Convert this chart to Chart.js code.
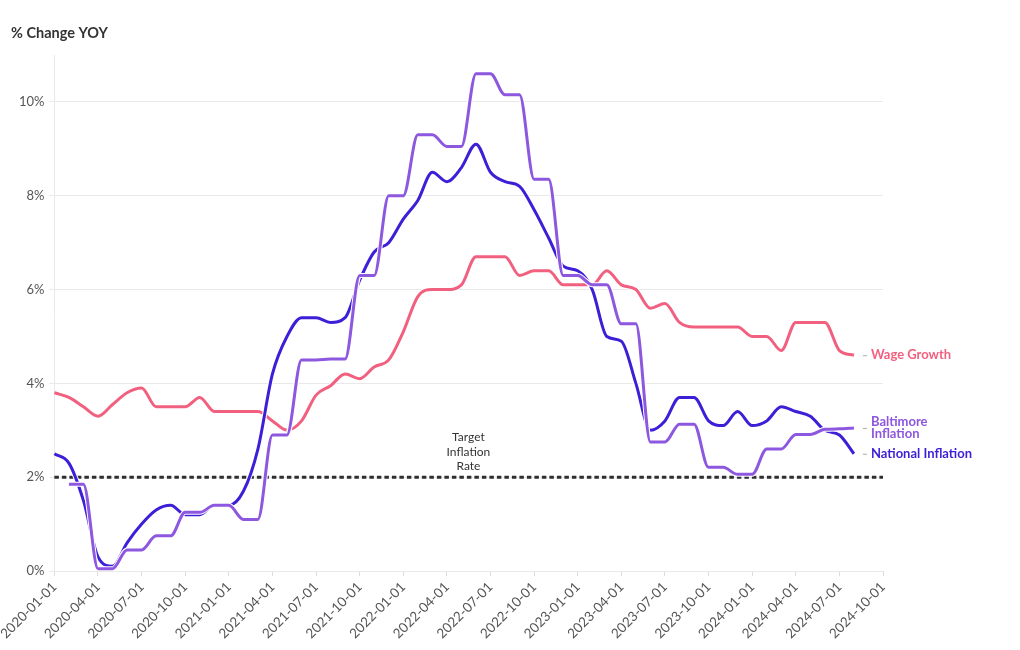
<!DOCTYPE html>
<html>
<head>
<meta charset="utf-8">
<script src="https://cdn.jsdelivr.net/npm/chart.js@4"></script>
<style>
    html, body { margin: 0; padding: 0; background: #fff; }
    #wrap { width: 1020px; height: 650px; position: relative; }
</style>
</head>
<body>
<div id="wrap"><canvas id="inflationChart"></canvas></div>
<script>
// Monthly categories, 2020-01 .. 2024-10 (labels shown every quarter)
const months = [
    '2020-01-01', '2020-02-01', '2020-03-01', '2020-04-01', '2020-05-01', '2020-06-01',
    '2020-07-01', '2020-08-01', '2020-09-01', '2020-10-01', '2020-11-01', '2020-12-01',
    '2021-01-01', '2021-02-01', '2021-03-01', '2021-04-01', '2021-05-01', '2021-06-01',
    '2021-07-01', '2021-08-01', '2021-09-01', '2021-10-01', '2021-11-01', '2021-12-01',
    '2022-01-01', '2022-02-01', '2022-03-01', '2022-04-01', '2022-05-01', '2022-06-01',
    '2022-07-01', '2022-08-01', '2022-09-01', '2022-10-01', '2022-11-01', '2022-12-01',
    '2023-01-01', '2023-02-01', '2023-03-01', '2023-04-01', '2023-05-01', '2023-06-01',
    '2023-07-01', '2023-08-01', '2023-09-01', '2023-10-01', '2023-11-01', '2023-12-01',
    '2024-01-01', '2024-02-01', '2024-03-01', '2024-04-01', '2024-05-01', '2024-06-01',
    '2024-07-01', '2024-08-01', '2024-09-01', '2024-10-01'
];

const wageGrowth = [
    3.8, 3.7, 3.5, 3.3, 3.55, 3.8, 3.9, 3.5, 3.5, 3.5, 3.7, 3.4,
    3.4, 3.4, 3.4, 3.2, 3.0, 3.2, 3.75, 3.95, 4.2, 4.1, 4.35, 4.5,
    5.1, 5.85, 6.0, 6.0, 6.1, 6.7, 6.7, 6.7, 6.3, 6.4, 6.4, 6.1,
    6.1, 6.1, 6.4, 6.1, 6.0, 5.6, 5.7, 5.3, 5.2, 5.2, 5.2, 5.2,
    5.0, 5.0, 4.7, 5.3, 5.3, 5.3, 4.7, 4.6
];

const nationalInflation = [
    2.5, 2.3, 1.5, 0.3, 0.1, 0.6, 1.0, 1.3, 1.4, 1.2, 1.2, 1.4,
    1.4, 1.7, 2.6, 4.2, 5.0, 5.4, 5.4, 5.3, 5.4, 6.2, 6.8, 7.0,
    7.5, 7.9, 8.5, 8.3, 8.6, 9.1, 8.5, 8.3, 8.2, 7.7, 7.1, 6.5,
    6.4, 6.0, 5.0, 4.9, 4.0, 3.0, 3.2, 3.7, 3.7, 3.2, 3.1, 3.4,
    3.1, 3.2, 3.5, 3.4, 3.3, 3.0, 2.9, 2.5
];

// Baltimore CPI is bimonthly, so each reading is held for two months
const baltimoreInflation = [
    null, 1.85, 1.85, 0.05, 0.05, 0.45, 0.45, 0.75, 0.75, 1.25, 1.25, 1.4,
    1.4, 1.1, 1.1, 2.9, 2.9, 4.5, 4.5, 4.52, 4.52, 6.3, 6.3, 8.0,
    8.0, 9.3, 9.3, 9.05, 9.05, 10.6, 10.6, 10.15, 10.15, 8.35, 8.35, 6.3,
    6.3, 6.1, 6.1, 5.27, 5.27, 2.75, 2.75, 3.13, 3.13, 2.21, 2.21, 2.06,
    2.06, 2.6, 2.6, 2.91, 2.91, 3.02, 3.03, 3.05
];

const targetRate = 2;
const yTicks = [0, 2, 4, 6, 8, 10];

const COLORS = {
    wage: '#f1607f',
    national: '#3c1fd6',
    baltimore: '#8d57df',
    target: '#2e2e2e',
    text: '#333333',
    axisText: '#555555',
    grid: '#e9e9e9'
};

const FONT = 'Lato, "Open Sans", sans-serif';

const endLabels = [
    { series: 'Wage Growth', lines: ['Wage Growth'], color: COLORS.wage },
    { series: 'Baltimore Inflation', lines: ['Baltimore', 'Inflation'], color: COLORS.baltimore },
    { series: 'National Inflation', lines: ['National Inflation'], color: COLORS.national }
];

// Each series gets a thin white halo drawn right under it, like the original
function seriesWithHalo(label, data, color, order) {
    const common = {
        data,
        pointRadius: 0,
        cubicInterpolationMode: 'monotone'
    };
    return [
        { ...common, label: `${label} halo`, borderColor: '#ffffff', borderWidth: 5, order: order + 0.5 },
        { ...common, label, borderColor: color, borderWidth: 3, order }
    ];
}

const annotationPlugin = {
    id: 'annotations',
    afterDatasetsDraw(chart) {
        const { ctx, scales } = chart;
        const x = scales.x;
        const y = scales.y;

        ctx.save();

        // title
        ctx.fillStyle = COLORS.text;
        ctx.font = `bold 14.5px ${FONT}`;
        ctx.textAlign = 'left';
        ctx.textBaseline = 'middle';
        ctx.fillText('% Change YOY', 11, 33);

        // target line label
        ctx.font = `12px ${FONT}`;
        ctx.textAlign = 'center';
        const cx = x.getPixelForValue(28) + 7;
        const baseY = y.getPixelForValue(targetRate);
        ['Target', 'Inflation', 'Rate'].forEach((line, i) => {
            ctx.fillText(line, cx, baseY - 40 + i * 14.5);
        });

        // line end labels
        ctx.font = `bold 13px ${FONT}`;
        ctx.textAlign = 'left';
        endLabels.forEach((label) => {
            const dataset = chart.data.datasets.find((d) => d.label === label.series);
            const data = dataset.data;
            const lastIndex = data.length - 1;
            const py = y.getPixelForValue(data[lastIndex]);
            const lx = x.getPixelForValue(lastIndex) + 17;

            ctx.strokeStyle = '#aaaaaa';
            ctx.lineWidth = 1;
            ctx.beginPath();
            ctx.moveTo(lx - 8, py + 0.5);
            ctx.lineTo(lx - 4, py + 0.5);
            ctx.stroke();

            ctx.fillStyle = label.color;
            const offset = (label.lines.length - 1) * 6;
            label.lines.forEach((line, i) => {
                ctx.fillText(line, lx, py - offset + i * 12);
            });
        });

        ctx.restore();
    }
};

const ctx = document.getElementById('inflationChart').getContext('2d');

new Chart(ctx, {
    type: 'line',
    data: {
        labels: months,
        datasets: [
            {
                label: 'Target Inflation Rate',
                data: [
                    { x: months[0], y: targetRate },
                    { x: months[months.length - 1], y: targetRate }
                ],
                borderColor: COLORS.target,
                borderWidth: 3,
                borderDash: [4.5, 3],
                pointRadius: 0,
                order: 5
            },
            ...seriesWithHalo('Wage Growth', wageGrowth, COLORS.wage, 3),
            ...seriesWithHalo('National Inflation', nationalInflation, COLORS.national, 2),
            ...seriesWithHalo('Baltimore Inflation', baltimoreInflation, COLORS.baltimore, 1)
        ]
    },
    options: {
        responsive: true,
        maintainAspectRatio: false,
        animation: false,
        layout: {
            padding: { top: 55, right: 137, bottom: 0, left: 0 }
        },
        scales: {
            x: {
                type: 'category',
                offset: false,
                grid: {
                    drawOnChartArea: false,
                    tickLength: 5,
                    tickColor: (context) => (context.index % 3 === 0 ? '#dddddd' : 'rgba(0,0,0,0)')
                },
                border: { display: false },
                ticks: {
                    autoSkip: false,
                    maxRotation: 45,
                    minRotation: 45,
                    padding: 3,
                    color: COLORS.axisText,
                    font: { family: FONT, size: 13.5 },
                    callback: function (value, index) {
                        return index % 3 === 0 ? this.getLabelForValue(value) : '';
                    }
                },
                afterFit: (scale) => {
                    scale.height = 79;
                }
            },
            y: {
                min: 0,
                max: 11,
                grid: {
                    color: COLORS.grid,
                    tickLength: 5,
                    tickColor: COLORS.grid
                },
                border: { display: true, color: COLORS.grid },
                afterBuildTicks: (scale) => {
                    scale.ticks = yTicks.map((value) => ({ value }));
                },
                ticks: {
                    padding: 5,
                    color: COLORS.axisText,
                    font: { family: FONT, size: 13 },
                    callback: (value) => `${value}%`
                },
                afterFit: (scale) => {
                    scale.width = 52;
                }
            }
        },
        plugins: {
            legend: { display: false },
            tooltip: { enabled: false }
        }
    },
    plugins: [annotationPlugin]
});
</script>
</body>
</html>
